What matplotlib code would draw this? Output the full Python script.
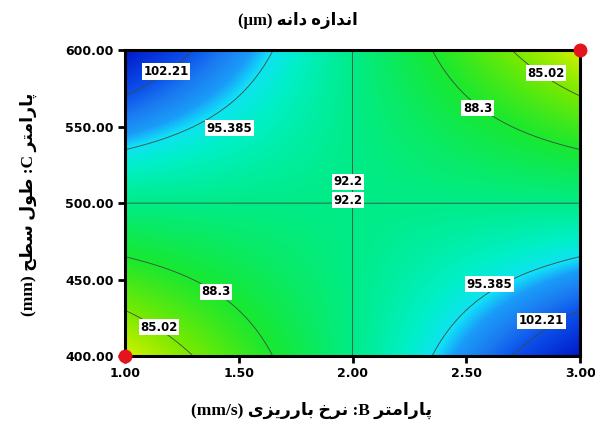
import numpy as np
import matplotlib
matplotlib.use("Agg")
import matplotlib.pyplot as plt
from matplotlib.colors import LinearSegmentedColormap, Normalize

# contour levels and where each crosses the plot, as p = X*Y in coded units
levels = [85.02, 88.3, 92.2, 95.385, 102.21]
level_pos = [0.70, 0.35, 0.0, -0.35, -0.70]
corner_low = 82.2     # top-right / bottom-left corners
corner_high = 108.1   # top-left / bottom-right corners

x_ticks = [1.00, 1.50, 2.00, 2.50, 3.00]
y_ticks = [400.00, 450.00, 500.00, 550.00, 600.00]

design_x = [1.0, 3.0]
design_y = [400.0, 600.0]

# label text and position of each contour label
label_text = ["102.21", "95.385", "92.2", "92.2", "85.02", "88.3",
              "88.3", "85.02", "95.385", "102.21"]
label_x = [1.18, 1.46, 1.98, 1.98, 2.85, 2.55, 1.40, 1.15, 2.60, 2.83]
label_y = [586, 549, 514, 502, 585, 562, 442, 419, 447, 423]

# persian shaping (matplotlib has no bidi / joining support)
FORMS = {
    'ا': ('\uFE8D', '\uFE8E', None, None),
    'ب': ('\uFE8F', '\uFE90', '\uFE91', '\uFE92'),
    'پ': ('\uFB56', '\uFB57', '\uFB58', '\uFB59'),
    'ت': ('\uFE95', '\uFE96', '\uFE97', '\uFE98'),
    'ح': ('\uFEA1', '\uFEA2', '\uFEA3', '\uFEA4'),
    'خ': ('\uFEA5', '\uFEA6', '\uFEA7', '\uFEA8'),
    'د': ('\uFEA9', '\uFEAA', None, None),
    'ر': ('\uFEAD', '\uFEAE', None, None),
    'ز': ('\uFEAF', '\uFEB0', None, None),
    'س': ('\uFEB1', '\uFEB2', '\uFEB3', '\uFEB4'),
    'ط': ('\uFEC1', '\uFEC2', '\uFEC3', '\uFEC4'),
    'ل': ('\uFEDD', '\uFEDE', '\uFEDF', '\uFEE0'),
    'م': ('\uFEE1', '\uFEE2', '\uFEE3', '\uFEE4'),
    'ن': ('\uFEE5', '\uFEE6', '\uFEE7', '\uFEE8'),
    'ه': ('\uFEE9', '\uFEEA', '\uFEEB', '\uFEEC'),
    'و': ('\uFEED', '\uFEEE', None, None),
    'ی': ('\uFBFC', '\uFBFD', '\uFBFE', '\uFBFF'),
}


def dual(c):
    return c in FORMS and FORMS[c][2] is not None


def fa(s):
    out = []
    for i, c in enumerate(s):
        if c not in FORMS:
            out.append(c)
            continue
        prev = s[i - 1] if i > 0 else ''
        nxt = s[i + 1] if i + 1 < len(s) else ''
        cp = dual(prev)
        cn = dual(c) and nxt in FORMS
        iso, fin, ini, med = FORMS[c]
        if cp and cn:
            out.append(med)
        elif cp:
            out.append(fin)
        elif cn:
            out.append(ini)
        else:
            out.append(iso)
    return ''.join(out[::-1])


title = "(\u00b5m) " + fa("اندازه دانه")
xlabel = "(mm/s) " + fa("نرخ بارریزی") + " :B " + fa("پارامتر")
ylabel = "(mm) " + fa("طول سطح") + " :C " + fa("پارامتر")

# surface
xs = np.linspace(1, 3, 300)
ys = np.linspace(400, 600, 300)
XX, YY = np.meshgrid(xs, ys)
P = (XX - 2.0) * (YY - 500.0) / 100.0
xp = [-1.0] + level_pos[::-1] + [1.0]
fp = [corner_high] + levels[::-1] + [corner_low]
Z = np.interp(P, xp, fp)

stops = [(82.2, '#d4f000'), (85.0, '#78ea00'), (88.3, '#18e830'),
         (92.2, '#00ec88'), (94.3, '#00f0c8'), (95.6, '#10e0f8'),
         (97.2, '#1a9cf8'), (99.8, '#1a78f0'), (102.2, '#0c52ec'),
         (108.1, '#0018c8')]
lo, hi = stops[0][0], stops[-1][0]
cmap = LinearSegmentedColormap.from_list(
    "de", [((v - lo) / (hi - lo), c) for v, c in stops])

fig = plt.figure(figsize=(5.95, 4.25), dpi=100)
ax = fig.add_axes([0.210, 0.162, 0.765, 0.720])

ax.imshow(Z, extent=[1, 3, 400, 600], origin='lower', aspect='auto',
          cmap=cmap, norm=Normalize(lo, hi), interpolation='bilinear')
ax.contour(XX, YY, Z, levels=levels, colors='#3c4c40', linewidths=0.6)

for t, lx, ly in zip(label_text, label_x, label_y):
    ax.text(lx, ly, t, ha='center', va='center', fontsize=8.5,
            fontweight='bold', color='black',
            bbox=dict(facecolor='white', edgecolor='none', pad=1.2))

ax.plot(design_x, design_y, 'o', color='#e3141c', ms=9, clip_on=False,
        zorder=5)

ax.set_xlim(1, 3)
ax.set_ylim(400, 600)
ax.set_xticks(x_ticks)
ax.set_yticks(y_ticks)
ax.set_xticklabels(["%.2f" % v for v in x_ticks])
ax.set_yticklabels(["%.2f" % v for v in y_ticks])
ax.tick_params(direction='out', length=5, width=2, labelsize=9, pad=3)
for lab in ax.get_xticklabels() + ax.get_yticklabels():
    lab.set_fontweight('bold')
for sp in ax.spines.values():
    sp.set_linewidth(2.2)

fam = ['Liberation Serif', 'DejaVu Sans']
fig.text(0.5, 0.952, title, ha='center', va='center', fontsize=12,
         fontweight='bold', family=fam)
fig.text(0.523, 0.035, xlabel, ha='center', va='center', fontsize=12.5,
         fontweight='bold', family=fam)
fig.text(0.047, 0.518, ylabel, ha='center', va='center', fontsize=12.5,
         fontweight='bold', family=fam, rotation=90)

fig.savefig("out.png", dpi=100)
